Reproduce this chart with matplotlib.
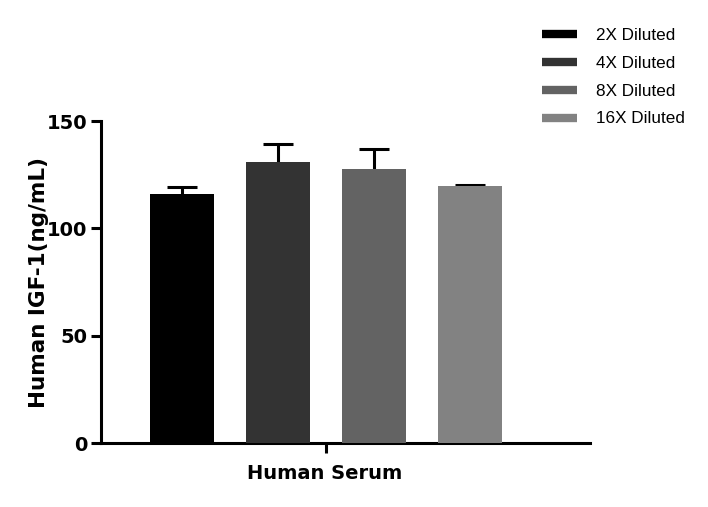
import matplotlib
matplotlib.use("Agg")
import matplotlib.pyplot as plt
from matplotlib.lines import Line2D

# Data
groups = ['2X Diluted', '4X Diluted', '8X Diluted', '16X Diluted']
means = [116.0, 131.0, 127.5, 119.7]
errors = [3.2, 8.3, 9.3, 0.6]
colors = ['#000000', '#333333', '#636363', '#828282']
category = 'Human Serum'

fig = plt.figure(figsize=(7.08, 5.07), dpi=100)
ax = fig.add_axes([0.1427, 0.1262, 0.833 - 0.1427, 0.761 - 0.1262])

xpos = range(len(groups))
for x, m, e, c in zip(xpos, means, errors, colors):
    ax.bar(x, m, width=0.667, color=c, zorder=3)
    # symmetric bar drawn behind, so only the upper half shows
    ax.errorbar(x, m, yerr=e, fmt='none', ecolor='black',
                elinewidth=2.2, capsize=11, capthick=2.2, zorder=2)

ax.set_xlim(-0.844, 4.25)
ax.set_ylim(0, 150)
ax.set_yticks([0, 50, 100, 150])
ax.set_xticks([1.5])
ax.set_xticklabels([''])

for s in ['top', 'right']:
    ax.spines[s].set_visible(False)
for s in ['left', 'bottom']:
    ax.spines[s].set_linewidth(2.2)
ax.tick_params(axis='both', width=2.2, length=7, labelsize=14, pad=3)
for lbl in ax.get_yticklabels():
    lbl.set_fontweight('bold')

ax.set_ylabel('Human IGF-1(ng/mL)', fontsize=15.5, fontweight='bold')
ax.yaxis.set_label_coords(-0.106, (443 - 282) / 322)
ax.set_xlabel(category, fontsize=14, fontweight='bold')
ax.xaxis.set_label_coords((325 - 101) / (590 - 101), -0.065)

handles = [Line2D([0], [0], color=c, lw=6, solid_capstyle='butt') for c in colors]
leg = fig.legend(handles, groups, loc='upper left', bbox_to_anchor=(0.744, 0.976),
                 frameon=False, handlelength=2.05, handletextpad=1.1,
                 labelspacing=0.76, prop={'family': 'Liberation Sans', 'size': 12.3})

fig.savefig('out.png', dpi=100)
